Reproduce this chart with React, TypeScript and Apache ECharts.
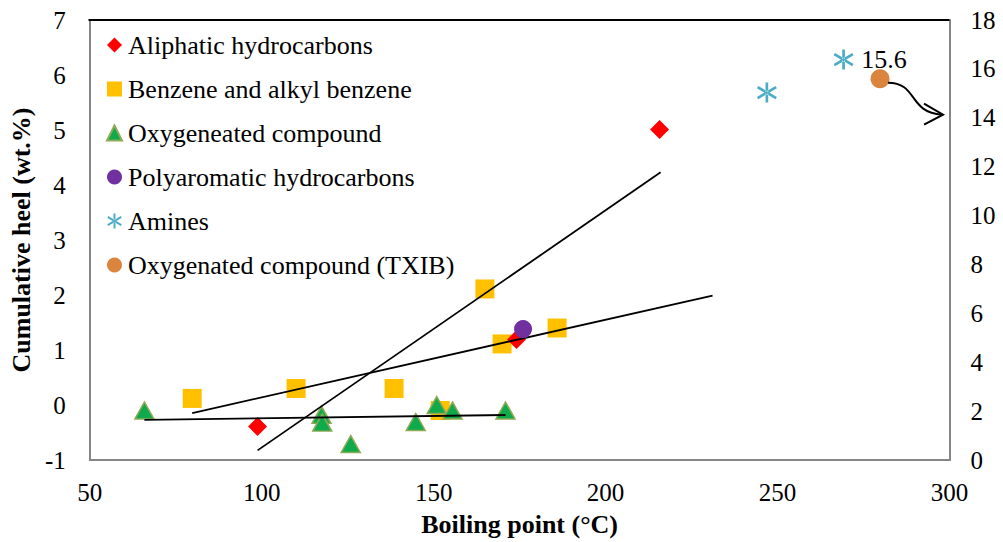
import React, { useEffect, useRef } from "react";
import * as echarts from "echarts";

// Boiling point (°C) and cumulative heel (wt.%) for each compound family
const aliphaticBp = [98.8, 174.1, 215.7];
const aliphaticHeel = [-0.39, 1.19, 5.01];

const benzeneBp = [79.8, 110.0, 138.5, 151.9, 164.9, 169.9, 185.9];
const benzeneHeel = [0.12, 0.3, 0.3, -0.1, 2.11, 1.11, 1.4];

const oxygenBp = [65.9, 117.4, 117.6, 125.9, 144.8, 150.9, 155.5, 170.9];
const oxygenHeel = [-0.1, -0.18, -0.32, -0.71, -0.31, 0.0, -0.1, -0.1];

const polyaromaticBp = [176.0];
const polyaromaticHeel = [1.38];

const aminesBp = [246.9, 269.2];
const aminesHeel = [5.68, 6.28];

// TXIB is read on the secondary axis
const txibBp = [279.8];
const txibHeel = [15.6];

// Linear trend lines (end points)
const aliphaticTrendBp = [98.8, 216.0];
const aliphaticTrendHeel = [-0.825, 4.23];
const benzeneTrendBp = [79.8, 231.1];
const benzeneTrendHeel = [-0.146, 1.99];
const oxygenTrendBp = [65.9, 170.9];
const oxygenTrendHeel = [-0.272, -0.182];

const xTicks = { min: 50, max: 300, interval: 50 };
const leftTicks = { min: -1, max: 7, interval: 1 };
const rightTicks = { min: 0, max: 18, interval: 2 };

const legendNames = [
  "Aliphatic hydrocarbons",
  "Benzene and alkyl benzene",
  "Oxygeneated compound",
  "Polyaromatic hydrocarbons",
  "Amines",
  "Oxygenated compound (TXIB)",
];

const FONT = "Liberation Serif";
const AXIS_GRAY = "#868686";

// six-armed asterisk made of three filled bars
const STAR =
  "path://M8.7,0L11.3,0L11.3,20L8.7,20Z" +
  "M0.322,5.608L18.322,16.608L19.678,14.392L1.678,3.392Z" +
  "M1.678,16.608L19.678,5.608L18.322,3.392L0.322,14.392Z";

const pairs = (xs: number[], ys: number[]) => xs.map((x, i) => [x, ys[i]]);

const GRID = { left: 88.5, right: 53.5, top: 20, bottom: 79 };
const W = 1003;
const H = 542;

export default function App() {
  const ref = useRef<HTMLDivElement>(null);

  useEffect(() => {
    document.body.style.margin = "0";
    if (!ref.current) return;
    const chart = echarts.init(ref.current, null, { renderer: "svg" });

    const trend = (name: string, xs: number[], ys: number[]) => ({
      name,
      type: "line",
      data: pairs(xs, ys),
      symbol: "none",
      lineStyle: { color: "#000", width: 1.8 },
      z: 3,
      silent: true,
    });

    const axisLine = { show: true, onZero: false, lineStyle: { color: AXIS_GRAY, width: 2 } };

    chart.setOption({
      animation: false,
      textStyle: { fontFamily: FONT },
      grid: { ...GRID, containLabel: false },
      legend: {
        data: legendNames,
        orient: "vertical",
        left: 106,
        top: 32,
        padding: 0,
        itemGap: 18,
        itemWidth: 15,
        itemHeight: 15,
        textStyle: {
          fontFamily: FONT,
          fontSize: 26,
          lineHeight: 26,
          color: "#000",
          padding: [0, 0, 0, 1],
        },
      },
      xAxis: {
        type: "value",
        ...xTicks,
        name: "Boiling point (°C)",
        nameLocation: "middle",
        nameGap: 51,
        nameTextStyle: { fontFamily: FONT, fontSize: 26, fontWeight: "bold", color: "#000" },
        axisLine,
        axisTick: { show: false },
        splitLine: { show: false },
        axisLabel: { fontFamily: FONT, fontSize: 25, color: "#000", margin: 20 },
      },
      yAxis: [
        {
          type: "value",
          ...leftTicks,
          name: "Cumulative heel (wt.%)",
          nameLocation: "middle",
          nameRotate: 90,
          nameGap: 52,
          nameTextStyle: { fontFamily: FONT, fontSize: 26, fontWeight: "bold", color: "#000" },
          axisLine,
          axisTick: { show: false },
          splitLine: { show: false },
          axisLabel: { fontFamily: FONT, fontSize: 25, color: "#000", margin: 24 },
        },
        {
          type: "value",
          position: "right",
          ...rightTicks,
          axisLine,
          axisTick: { show: false },
          splitLine: { show: false },
          axisLabel: { fontFamily: FONT, fontSize: 25, color: "#000", margin: 21 },
        },
      ],
      series: [
        trend("aliphatic trend", aliphaticTrendBp, aliphaticTrendHeel),
        trend("benzene trend", benzeneTrendBp, benzeneTrendHeel),
        trend("oxygen trend", oxygenTrendBp, oxygenTrendHeel),
        {
          name: legendNames[1],
          type: "scatter",
          data: pairs(benzeneBp, benzeneHeel),
          symbol: "rect",
          symbolSize: 19,
          itemStyle: { color: "#FFC000", opacity: 1 },
          z: 2,
        },
        {
          name: legendNames[0],
          type: "scatter",
          data: pairs(aliphaticBp, aliphaticHeel),
          symbol: "diamond",
          symbolSize: 19,
          itemStyle: { color: "#FF0000", opacity: 1 },
          z: 2,
        },
        {
          name: legendNames[2],
          type: "scatter",
          data: pairs(oxygenBp, oxygenHeel),
          symbol: "triangle",
          symbolSize: [19, 17],
          itemStyle: { color: "#0FAA4B", borderColor: "#8EAA55", borderWidth: 1.5, opacity: 1 },
          z: 2,
        },
        {
          name: legendNames[3],
          type: "scatter",
          data: pairs(polyaromaticBp, polyaromaticHeel),
          symbol: "circle",
          symbolSize: 18,
          itemStyle: { color: "#7030A0", opacity: 1 },
          z: 4,
        },
        {
          name: legendNames[4],
          type: "scatter",
          data: pairs(aminesBp, aminesHeel),
          symbol: STAR,
          symbolSize: 20,
          itemStyle: { color: "#4BACC6", opacity: 1 },
          z: 2,
        },
        {
          name: legendNames[5],
          type: "scatter",
          yAxisIndex: 1,
          data: pairs(txibBp, txibHeel),
          symbol: "circle",
          symbolSize: 19,
          itemStyle: { color: "#DB843D", opacity: 1 },
          label: {
            show: true,
            position: "top",
            distance: 0,
            offset: [4, 3],
            formatter: (p: any) => String(p.value[1]),
            fontFamily: FONT,
            fontSize: 26,
            color: "#000",
          },
          z: 2,
        },
      ],
    });

    // Black top edge of the plot frame and the curved arrow from the TXIB point to the right axis
    const [cx, cy] = chart.convertToPixel({ xAxisIndex: 0, yAxisIndex: 1 }, [txibBp[0], txibHeel[0]]) as number[];
    chart.setOption({
      graphic: [
        {
          type: "line",
          shape: { x1: GRID.left, y1: GRID.top, x2: W - GRID.right, y2: GRID.top },
          style: { stroke: "#000", lineWidth: 2 },
          z: 10,
        },
        {
          type: "bezierCurve",
          shape: {
            x1: cx + 8, y1: cy + 4,
            cpx1: cx + 38, cpy1: cy + 4,
            cpx2: cx + 28, cpy2: cy + 34,
            x2: cx + 62, y2: cy + 36,
          },
          style: { stroke: "#000", lineWidth: 2, fill: null },
          z: 10,
        },
        {
          type: "polyline",
          shape: { points: [[cx + 44, cy + 25], [cx + 63, cy + 36], [cx + 44, cy + 46]] },
          style: { stroke: "#000", lineWidth: 2, fill: null },
          z: 10,
        },
      ],
    });

    return () => chart.dispose();
  }, []);

  return <div ref={ref} style={{ width: W, height: H }} />;
}
